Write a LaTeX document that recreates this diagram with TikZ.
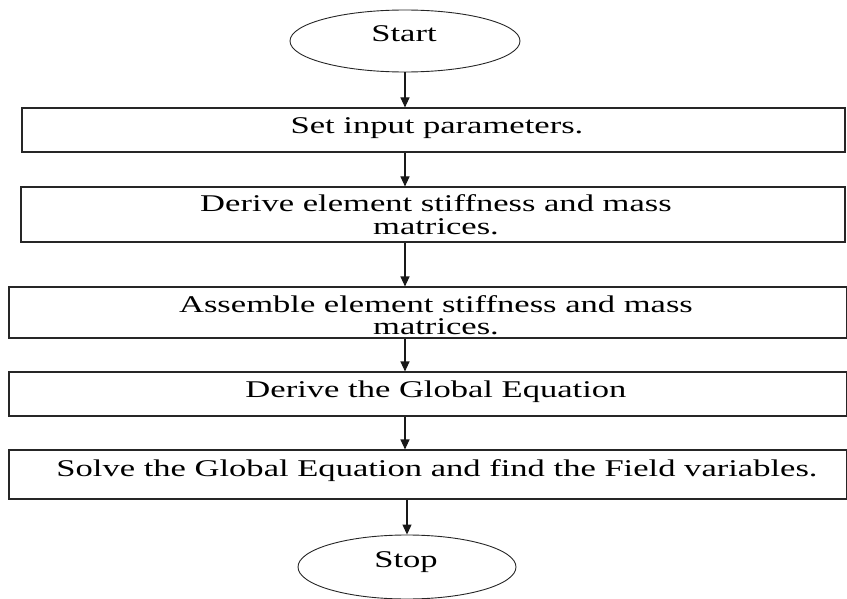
\documentclass[tikz,border=0pt]{standalone}
\usepackage{fontspec}
\setmainfont[FakeStretch=1.44]{Liberation Serif}
\usetikzlibrary{arrows.meta,shapes.geometric}
\begin{document}
\begin{tikzpicture}[x=1pt,y=-1pt,
  box/.style={draw=black!85,line width=1.1pt,rectangle,inner sep=0pt},
  oval/.style={draw=black!85,line width=0.9pt,ellipse,inner sep=0pt},
  txt/.style={inner sep=0pt,anchor=base,font=\fontsize{24}{27}\selectfont},
  arr/.style={draw=black!90,line width=1.1pt,-{Triangle[width=9pt,length=10pt]}}]
\useasboundingbox (0,0) rectangle (847,599);
\node[oval,minimum width=230pt,minimum height=62pt] (start) at (405,41) {};
\node[txt] (tstart) at (404,42) {Start};
\node[box,minimum width=823pt,minimum height=44pt] (b1) at (433.5,130) {};
\node[txt] (t1) at (437,134) {Set input parameters.};
\node[box,minimum width=824pt,minimum height=55pt] (b2) at (433,214.5) {};
\node[txt] (t2a) at (436,212) {Derive element stiffness and mass};
\node[txt] (t2b) at (436,234) {matrices.};
\node[box,minimum width=838pt,minimum height=51pt] (b3) at (428,312.5) {};
\node[txt] (t3a) at (436,312) {Assemble element stiffness and mass};
\node[txt] (t3b) at (436,334) {matrices.};
\node[box,minimum width=838pt,minimum height=44pt] (b4) at (428,394) {};
\node[txt] (t4) at (436,397) {Derive the Global Equation};
\node[box,minimum width=838pt,minimum height=49pt] (b5) at (428,474.5) {};
\node[txt] (t5) at (437,476) {Solve the Global Equation and find the Field variables.};
\node[oval,minimum width=218pt,minimum height=64pt] (stop) at (407,567) {};
\node[txt] (tstop) at (406,567) {Stop};
\draw[arr] (start.south) -- (b1.north -| start.south);
\draw[arr] (b1.south -| start.south) -- (b2.north -| start.south);
\draw[arr] (b2.south -| start.south) -- (b3.north -| start.south);
\draw[arr] (b3.south -| start.south) -- (b4.north -| start.south);
\draw[arr] (b4.south -| start.south) -- (b5.north -| start.south);
\draw[arr] (b5.south -| stop.north) -- (stop.north);
\end{tikzpicture}
\end{document}
